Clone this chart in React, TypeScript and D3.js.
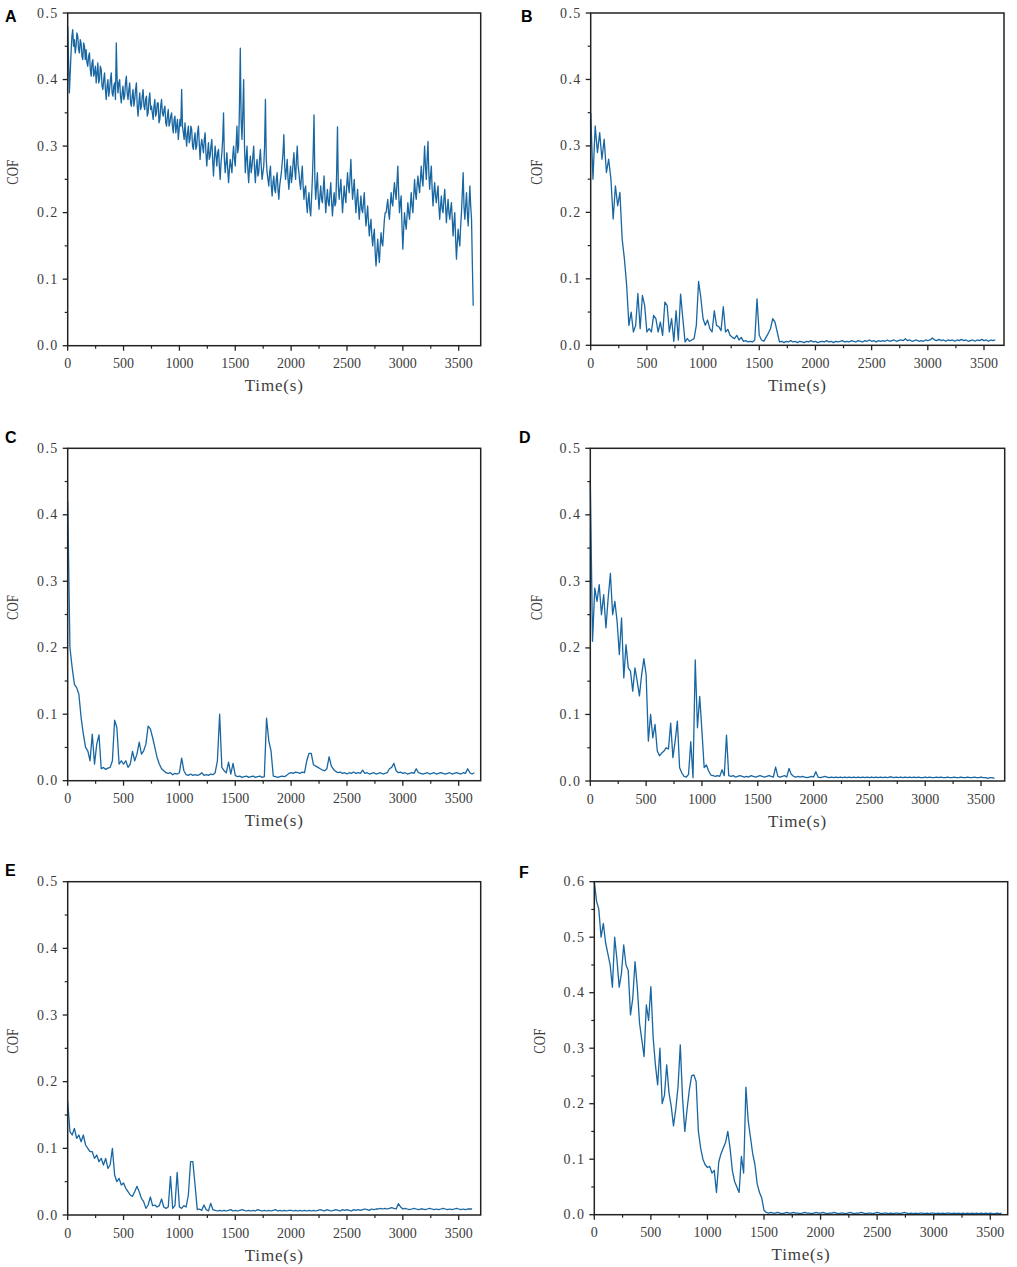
import React from 'react';
import * as d3 from 'd3';

// ---------- data (COF vs time) ----------
// Panel A sampled every 7.5 s (one row = 20 samples = 150 s),
// panels B–F every 20 s (one row = 10 samples = 200 s)
const STEP_A = 7.5;
const STEP = 20;

const cofA = [
  0.48, 0.43, 0.38, 0.41, 0.44, 0.465, 0.475, 0.45, 0.46, 0.44, 0.45, 0.47, 0.465, 0.445, 0.44, 0.46, 0.455, 0.435, 0.43, 0.455,
  0.45, 0.43, 0.445, 0.425, 0.42, 0.435, 0.44, 0.415, 0.405, 0.425, 0.43, 0.405, 0.41, 0.42, 0.395, 0.41, 0.425, 0.395, 0.4, 0.42,
  0.415, 0.39, 0.385, 0.4, 0.41, 0.385, 0.37, 0.39, 0.4, 0.375, 0.385, 0.4, 0.41, 0.38, 0.375, 0.39, 0.395, 0.37, 0.455, 0.4,
  0.38, 0.395, 0.4, 0.375, 0.365, 0.38, 0.39, 0.37, 0.375, 0.395, 0.405, 0.38, 0.37, 0.385, 0.395, 0.365, 0.36, 0.375, 0.385, 0.36,
  0.37, 0.385, 0.395, 0.36, 0.345, 0.365, 0.38, 0.355, 0.36, 0.375, 0.385, 0.36, 0.355, 0.37, 0.375, 0.345, 0.35, 0.37, 0.38, 0.355,
  0.36, 0.35, 0.34, 0.36, 0.37, 0.345, 0.35, 0.365, 0.365, 0.335, 0.34, 0.36, 0.37, 0.35, 0.345, 0.355, 0.36, 0.335, 0.33, 0.345,
  0.355, 0.33, 0.335, 0.345, 0.35, 0.33, 0.32, 0.34, 0.345, 0.32, 0.33, 0.34, 0.31, 0.325, 0.34, 0.33, 0.385, 0.33, 0.32, 0.31,
  0.335, 0.315, 0.3, 0.32, 0.33, 0.305, 0.31, 0.33, 0.325, 0.3, 0.295, 0.31, 0.32, 0.295, 0.3, 0.32, 0.33, 0.305, 0.28, 0.3,
  0.31, 0.3, 0.29, 0.31, 0.32, 0.29, 0.27, 0.29, 0.305, 0.28, 0.285, 0.3, 0.31, 0.28, 0.255, 0.28, 0.3, 0.285, 0.27, 0.29,
  0.295, 0.27, 0.25, 0.275, 0.29, 0.31, 0.35, 0.28, 0.26, 0.275, 0.29, 0.265, 0.245, 0.265, 0.28, 0.27, 0.26, 0.285, 0.3, 0.28,
  0.27, 0.3, 0.33, 0.29, 0.3, 0.36, 0.447, 0.34, 0.31, 0.35, 0.4, 0.3, 0.26, 0.28, 0.3, 0.265, 0.245, 0.27, 0.285, 0.26,
  0.27, 0.285, 0.3, 0.265, 0.245, 0.27, 0.28, 0.255, 0.26, 0.28, 0.295, 0.27, 0.25, 0.26, 0.27, 0.3, 0.37, 0.28, 0.26, 0.25,
  0.24, 0.26, 0.27, 0.24, 0.225, 0.245, 0.255, 0.235, 0.23, 0.25, 0.26, 0.235, 0.22, 0.24, 0.25, 0.26, 0.275, 0.29, 0.317, 0.27,
  0.25, 0.265, 0.28, 0.25, 0.235, 0.255, 0.27, 0.245, 0.255, 0.275, 0.29, 0.265, 0.25, 0.28, 0.3, 0.27, 0.26, 0.245, 0.235, 0.255,
  0.27, 0.24, 0.22, 0.235, 0.24, 0.215, 0.2, 0.22, 0.23, 0.205, 0.195, 0.22, 0.25, 0.29, 0.347, 0.25, 0.22, 0.24, 0.26, 0.225,
  0.205, 0.225, 0.24, 0.22, 0.215, 0.235, 0.255, 0.225, 0.2, 0.22, 0.235, 0.215, 0.21, 0.23, 0.245, 0.215, 0.195, 0.215, 0.23, 0.21,
  0.215, 0.26, 0.329, 0.24, 0.22, 0.235, 0.25, 0.225, 0.2, 0.22, 0.24, 0.225, 0.215, 0.24, 0.26, 0.24, 0.23, 0.255, 0.28, 0.245,
  0.22, 0.235, 0.25, 0.22, 0.2, 0.22, 0.235, 0.21, 0.19, 0.21, 0.225, 0.205, 0.2, 0.215, 0.23, 0.2, 0.18, 0.195, 0.21, 0.185,
  0.165, 0.18, 0.19, 0.165, 0.15, 0.165, 0.175, 0.14, 0.12, 0.14, 0.16, 0.14, 0.125, 0.15, 0.17, 0.155, 0.15, 0.17, 0.19, 0.2,
  0.2, 0.21, 0.22, 0.2, 0.19, 0.21, 0.23, 0.215, 0.21, 0.23, 0.245, 0.23, 0.22, 0.245, 0.27, 0.23, 0.2, 0.215, 0.225, 0.18,
  0.145, 0.175, 0.2, 0.185, 0.175, 0.195, 0.215, 0.2, 0.19, 0.21, 0.23, 0.21, 0.2, 0.225, 0.25, 0.23, 0.22, 0.24, 0.255, 0.24,
  0.23, 0.25, 0.27, 0.25, 0.24, 0.27, 0.3, 0.27, 0.25, 0.28, 0.307, 0.26, 0.235, 0.255, 0.27, 0.235, 0.21, 0.23, 0.245, 0.225,
  0.215, 0.23, 0.24, 0.21, 0.19, 0.21, 0.225, 0.205, 0.2, 0.22, 0.235, 0.21, 0.185, 0.205, 0.22, 0.2, 0.19, 0.205, 0.215, 0.19,
  0.165, 0.185, 0.2, 0.16, 0.13, 0.155, 0.175, 0.16, 0.15, 0.18, 0.2, 0.23, 0.26, 0.21, 0.19, 0.21, 0.23, 0.2, 0.18, 0.21,
  0.24, 0.21, 0.19, 0.12, 0.06,
];

const cofB = [
  0.35, 0.25, 0.33, 0.29, 0.32, 0.28, 0.31, 0.26, 0.28, 0.25,
  0.19, 0.24, 0.21, 0.23, 0.16, 0.13, 0.09, 0.03, 0.05, 0.02,
  0.03, 0.078, 0.025, 0.075, 0.06, 0.02, 0.025, 0.02, 0.045, 0.04,
  0.02, 0.035, 0.015, 0.065, 0.06, 0.02, 0.04, 0.006, 0.052, 0.008,
  0.077, 0.04, 0.005, 0.01, 0.006, 0.008, 0.01, 0.03, 0.096, 0.072,
  0.04, 0.03, 0.038, 0.025, 0.02, 0.052, 0.03, 0.028, 0.022, 0.058,
  0.02, 0.024, 0.015, 0.012, 0.01, 0.015, 0.008, 0.012, 0.006, 0.007,
  0.005, 0.006, 0.005, 0.008, 0.07, 0.015, 0.008, 0.006, 0.012, 0.018,
  0.025, 0.04, 0.035, 0.02, 0.005, 0.006, 0.004, 0.006, 0.005, 0.007,
  0.005, 0.006, 0.004, 0.006, 0.005, 0.004, 0.006, 0.005, 0.007, 0.005,
  0.006, 0.004, 0.005, 0.006, 0.005, 0.007, 0.005, 0.006, 0.004, 0.006,
  0.005, 0.006, 0.007, 0.005, 0.006, 0.005, 0.007, 0.006, 0.005, 0.007,
  0.006, 0.005, 0.007, 0.006, 0.008, 0.006, 0.007, 0.005, 0.007, 0.006,
  0.007, 0.006, 0.008, 0.006, 0.007, 0.008, 0.006, 0.007, 0.008, 0.007,
  0.01, 0.007, 0.008, 0.006, 0.007, 0.008, 0.006, 0.007, 0.006, 0.008,
  0.007, 0.008, 0.011, 0.008, 0.007, 0.009, 0.007, 0.008, 0.006, 0.008,
  0.007, 0.008, 0.006, 0.008, 0.007, 0.009, 0.007, 0.008, 0.006, 0.007,
  0.008, 0.006, 0.008, 0.007, 0.009, 0.007, 0.008, 0.006, 0.008, 0.007,
  0.008,
];

const cofC = [
  0.42, 0.2, 0.17, 0.145, 0.14, 0.13, 0.095, 0.07, 0.05, 0.045,
  0.03, 0.07, 0.025, 0.055, 0.069, 0.018, 0.02, 0.017, 0.019, 0.02,
  0.03, 0.091, 0.08, 0.025, 0.03, 0.025, 0.03, 0.02, 0.025, 0.044,
  0.03, 0.04, 0.058, 0.04, 0.045, 0.055, 0.082, 0.078, 0.065, 0.05,
  0.035, 0.025, 0.018, 0.015, 0.012, 0.011, 0.012, 0.009, 0.011, 0.01,
  0.012, 0.034, 0.015, 0.009, 0.008, 0.01, 0.008, 0.009, 0.008, 0.009,
  0.012, 0.008, 0.009, 0.008, 0.01, 0.009, 0.012, 0.03, 0.1, 0.02,
  0.015, 0.012, 0.028, 0.01, 0.026, 0.008, 0.006, 0.007, 0.005, 0.006,
  0.007, 0.005, 0.006, 0.007, 0.005, 0.006, 0.007, 0.005, 0.006, 0.094,
  0.06, 0.045, 0.007, 0.006, 0.005, 0.006, 0.007, 0.006, 0.008, 0.011,
  0.012, 0.011, 0.013, 0.012, 0.011, 0.013, 0.012, 0.03, 0.041, 0.041,
  0.024, 0.022, 0.02, 0.018, 0.016, 0.015, 0.018, 0.036, 0.022, 0.017,
  0.014, 0.012, 0.013, 0.011, 0.012, 0.01, 0.012, 0.011, 0.013, 0.011,
  0.012, 0.011, 0.016, 0.011, 0.012, 0.01, 0.011, 0.012, 0.01, 0.011,
  0.012, 0.01, 0.011, 0.012, 0.018, 0.02, 0.026, 0.015, 0.012, 0.013,
  0.011, 0.012, 0.01, 0.011, 0.012, 0.011, 0.018, 0.012, 0.011, 0.01,
  0.011, 0.012, 0.01, 0.011, 0.012, 0.01, 0.011, 0.012, 0.011, 0.01,
  0.011, 0.012, 0.01, 0.011, 0.012, 0.011, 0.01, 0.012, 0.011, 0.018,
  0.012, 0.01, 0.012,
];

const cofD = [
  0.45, 0.21, 0.29, 0.27, 0.295, 0.25, 0.28, 0.23, 0.275, 0.312,
  0.25, 0.27, 0.24, 0.19, 0.245, 0.155, 0.205, 0.17, 0.165, 0.135,
  0.17, 0.15, 0.128, 0.16, 0.184, 0.16, 0.06, 0.1, 0.065, 0.085,
  0.045, 0.038, 0.042, 0.045, 0.05, 0.048, 0.087, 0.035, 0.06, 0.09,
  0.02, 0.012, 0.007, 0.006, 0.01, 0.059, 0.005, 0.182, 0.08, 0.127,
  0.075, 0.02, 0.024, 0.015, 0.009, 0.008, 0.007, 0.008, 0.007, 0.017,
  0.008, 0.069, 0.008, 0.007, 0.008, 0.006, 0.007, 0.008, 0.007, 0.006,
  0.007, 0.006, 0.008, 0.007, 0.006, 0.007, 0.008, 0.007, 0.006, 0.007,
  0.008, 0.007, 0.006, 0.021, 0.007, 0.006, 0.007, 0.008, 0.006, 0.019,
  0.01, 0.007, 0.006, 0.007, 0.006, 0.007, 0.006, 0.005, 0.006, 0.007,
  0.006, 0.014, 0.006, 0.005, 0.006, 0.007, 0.006, 0.005, 0.006, 0.005,
  0.006, 0.005, 0.006, 0.005, 0.006, 0.005, 0.006, 0.005, 0.006, 0.005,
  0.006, 0.005, 0.006, 0.005, 0.006, 0.005, 0.006, 0.005, 0.006, 0.005,
  0.006, 0.005, 0.006, 0.005, 0.006, 0.006, 0.005, 0.006, 0.005, 0.006,
  0.005, 0.006, 0.005, 0.006, 0.005, 0.006, 0.005, 0.006, 0.005, 0.005,
  0.006, 0.005, 0.006, 0.005, 0.005, 0.006, 0.005, 0.006, 0.005, 0.005,
  0.006, 0.005, 0.005, 0.006, 0.005, 0.005, 0.006, 0.005, 0.005, 0.006,
  0.005, 0.005, 0.006, 0.005, 0.005, 0.006, 0.005, 0.005, 0.004, 0.005,
  0.005, 0.004,
];

const cofE = [
  0.17, 0.125, 0.12, 0.13, 0.115, 0.12, 0.11, 0.12, 0.105, 0.1,
  0.095, 0.095, 0.085, 0.09, 0.08, 0.085, 0.075, 0.085, 0.07, 0.075,
  0.1, 0.06, 0.05, 0.055, 0.045, 0.048, 0.04, 0.035, 0.03, 0.028,
  0.035, 0.043, 0.035, 0.025, 0.02, 0.01, 0.015, 0.027, 0.014, 0.015,
  0.012, 0.014, 0.024, 0.012, 0.01, 0.012, 0.058, 0.01, 0.014, 0.064,
  0.012, 0.01, 0.014, 0.012, 0.03, 0.08, 0.08, 0.045, 0.008, 0.009,
  0.007, 0.015, 0.008, 0.006, 0.0175, 0.008, 0.007, 0.006, 0.007, 0.006,
  0.007, 0.006, 0.007, 0.008, 0.006, 0.007, 0.006, 0.007, 0.008, 0.007,
  0.006, 0.007, 0.006, 0.007, 0.006, 0.008, 0.007, 0.006, 0.007, 0.006,
  0.007, 0.006, 0.007, 0.008, 0.006, 0.007, 0.006, 0.007, 0.006, 0.007,
  0.007, 0.006, 0.007, 0.006, 0.007, 0.006, 0.007, 0.006, 0.007, 0.006,
  0.007, 0.006, 0.007, 0.008, 0.007, 0.006, 0.008, 0.007, 0.006, 0.007,
  0.008, 0.007, 0.006, 0.008, 0.007, 0.008, 0.007, 0.006, 0.008, 0.007,
  0.008, 0.007, 0.008, 0.009, 0.008, 0.007, 0.009, 0.008, 0.009, 0.009,
  0.01, 0.009, 0.01, 0.009, 0.01, 0.011, 0.01, 0.009, 0.017, 0.012,
  0.009, 0.01, 0.009, 0.008, 0.009, 0.01, 0.009, 0.008, 0.009, 0.009,
  0.008, 0.009, 0.01, 0.009, 0.008, 0.009, 0.008, 0.009, 0.01, 0.009,
  0.008, 0.009, 0.008, 0.009, 0.01, 0.009, 0.008, 0.009, 0.008, 0.009,
  0.009, 0.009,
];

const cofF = [
  0.6, 0.565, 0.55, 0.5, 0.525, 0.49, 0.47, 0.45, 0.41, 0.5,
  0.46, 0.41, 0.435, 0.486, 0.45, 0.44, 0.36, 0.39, 0.456, 0.41,
  0.345, 0.315, 0.285, 0.378, 0.35, 0.411, 0.32, 0.27, 0.234, 0.3,
  0.2, 0.215, 0.27, 0.22, 0.195, 0.16, 0.19, 0.23, 0.306, 0.21,
  0.15, 0.19, 0.225, 0.25, 0.252, 0.24, 0.15, 0.12, 0.1, 0.09,
  0.085, 0.087, 0.075, 0.08, 0.04, 0.095, 0.11, 0.12, 0.13, 0.15,
  0.12, 0.08, 0.06, 0.05, 0.04, 0.105, 0.075, 0.23, 0.17, 0.14,
  0.11, 0.09, 0.055, 0.04, 0.03, 0.008, 0.004, 0.003, 0.004, 0.003,
  0.003, 0.004, 0.003, 0.002, 0.003, 0.004, 0.003, 0.003, 0.004, 0.003,
  0.003, 0.002, 0.003, 0.004, 0.003, 0.003, 0.002, 0.003, 0.004, 0.003,
  0.003, 0.004, 0.003, 0.002, 0.003, 0.003, 0.004, 0.003, 0.002, 0.003,
  0.003, 0.002, 0.003, 0.004, 0.003, 0.002, 0.003, 0.003, 0.004, 0.003,
  0.002, 0.003, 0.003, 0.002, 0.003, 0.004, 0.003, 0.002, 0.003, 0.003,
  0.002, 0.003, 0.002, 0.003, 0.003, 0.002, 0.003, 0.004, 0.003, 0.002,
  0.003, 0.002, 0.003, 0.002, 0.003, 0.003, 0.002, 0.003, 0.002, 0.003,
  0.003, 0.002, 0.003, 0.002, 0.003, 0.002, 0.003, 0.003, 0.002, 0.003,
  0.002, 0.003, 0.002, 0.003, 0.002, 0.003, 0.002, 0.003, 0.002, 0.003,
  0.002, 0.003, 0.002, 0.003, 0.002, 0.003, 0.002, 0.002, 0.003, 0.002,
  0.003,
];

const PANEL_LABELS = ['A', 'B', 'C', 'D', 'E', 'F'];
const X_TITLE = 'Time(s)';
const Y_TITLE = 'COF';
const X_TICK_STEP = 500;

type Panel = {
  label: string;
  data: number[];
  step: number;
  xMax: number;
  yMax: number;
  left: number;
  right: number;
  top: number;
  bottom: number;
  lx: number;
  ly: number;
  cofX: number;
};

const PANELS: Panel[] = [
  { label: PANEL_LABELS[0], data: cofA, step: STEP_A, xMax: 3697, yMax: 0.5, left: 67.7, right: 480.7, top: 13, bottom: 345.7, lx: 5, ly: 22, cofX: 12 },
  { label: PANEL_LABELS[1], data: cofB, step: STEP, xMax: 3678, yMax: 0.5, left: 590.7, right: 1004, top: 13, bottom: 345.3, lx: 521, ly: 22, cofX: 536 },
  { label: PANEL_LABELS[2], data: cofC, step: STEP, xMax: 3697, yMax: 0.5, left: 67.7, right: 480.7, top: 448.3, bottom: 780.7, lx: 5, ly: 443, cofX: 12.5 },
  { label: PANEL_LABELS[3], data: cofD, step: STEP, xMax: 3712, yMax: 0.5, left: 590.3, right: 1004.7, top: 448.3, bottom: 781, lx: 519, ly: 443, cofX: 536 },
  { label: PANEL_LABELS[4], data: cofE, step: STEP, xMax: 3697, yMax: 0.5, left: 67.7, right: 480.7, top: 881.7, bottom: 1215, lx: 5, ly: 876, cofX: 12 },
  { label: PANEL_LABELS[5], data: cofF, step: STEP, xMax: 3654, yMax: 0.6, left: 594.3, right: 1007.7, top: 881.7, bottom: 1214.7, lx: 519, ly: 878, cofX: 539 },
];

const LINE_COLOR = '#1866a2';
const AXIS_COLOR = '#222';
const TEXT_COLOR = '#3c3c3c';
const FONT = '"Liberation Serif", "Times New Roman", serif';

function PanelChart({ p }: { p: Panel }) {
  const x = d3.scaleLinear().domain([0, p.xMax]).range([p.left, p.right]);
  const y = d3.scaleLinear().domain([0, p.yMax]).range([p.bottom, p.top]);
  const line = d3
    .line<number>()
    .x((_, i) => x(i * p.step))
    .y((d) => y(d));

  const xMajor = d3.range(0, p.xMax + 1, X_TICK_STEP).filter((t) => t <= p.xMax);
  const xMinor = d3.range(X_TICK_STEP / 2, p.xMax, X_TICK_STEP);
  const nY = Math.round(p.yMax / 0.1);
  const yMajor = d3.range(0, nY + 1).map((k) => k / 10);
  const yMinor = d3.range(0, nY).map((k) => k / 10 + 0.05);
  const fmt = d3.format('.1f');
  const midY = (p.top + p.bottom) / 2;
  const midX = (p.left + p.right) / 2;

  return (
    <g>
      <path d={line(p.data) || ''} fill="none" stroke={LINE_COLOR} strokeWidth={1.3} strokeLinejoin="round" />
      <rect x={p.left} y={p.top} width={p.right - p.left} height={p.bottom - p.top} fill="none" stroke={AXIS_COLOR} strokeWidth={1.5} />
      {xMajor.map((t) => (
        <g key={'xm' + t}>
          <line x1={x(t)} x2={x(t)} y1={p.bottom} y2={p.bottom + 5} stroke={AXIS_COLOR} strokeWidth={1.3} />
          <text x={x(t)} y={p.bottom + 18} textAnchor="middle" dominantBaseline="central" fontSize={14} fontFamily={FONT} fill={TEXT_COLOR}>
            {t}
          </text>
        </g>
      ))}
      {xMinor.map((t) => (
        <line key={'xn' + t} x1={x(t)} x2={x(t)} y1={p.bottom} y2={p.bottom + 3} stroke={AXIS_COLOR} strokeWidth={1.2} />
      ))}
      {yMajor.map((v) => (
        <g key={'ym' + v}>
          <line x1={p.left - 5} x2={p.left} y1={y(v)} y2={y(v)} stroke={AXIS_COLOR} strokeWidth={1.3} />
          <text x={p.left - 9} y={y(v)} textAnchor="end" dominantBaseline="central" fontSize={14} fontFamily={FONT} fill={TEXT_COLOR} letterSpacing={1.4}>
            {fmt(v)}
          </text>
        </g>
      ))}
      {yMinor.map((v) => (
        <line key={'yn' + v} x1={p.left - 3} x2={p.left} y1={y(v)} y2={y(v)} stroke={AXIS_COLOR} strokeWidth={1.2} />
      ))}
      <text x={midX} y={p.bottom + 40} textAnchor="middle" dominantBaseline="central" fontSize={17} fontFamily={FONT} fill={TEXT_COLOR} letterSpacing={0.8}>
        {X_TITLE}
      </text>
      <text
        transform={`translate(${p.cofX},${midY - 7}) rotate(-90)`}
        textAnchor="middle"
        dominantBaseline="central"
        fontSize={17}
        fontFamily={FONT}
        fill={TEXT_COLOR}
        textLength={25}
        lengthAdjust="spacingAndGlyphs"
      >
        {Y_TITLE}
      </text>
      <text x={p.lx} y={p.ly} fontSize={16} fontWeight="bold" fontFamily='"Liberation Sans", Arial, sans-serif' fill="#000">
        {p.label}
      </text>
    </g>
  );
}

export default function App() {
  return (
    <svg
      width={1017}
      height={1267}
      viewBox="0 0 1017 1267"
      style={{ position: 'absolute', left: 0, top: 0, background: '#fff' }}
    >
      <rect x={0} y={0} width={1017} height={1267} fill="#fff" />
      {PANELS.map((p) => (
        <PanelChart key={p.label} p={p} />
      ))}
    </svg>
  );
}
